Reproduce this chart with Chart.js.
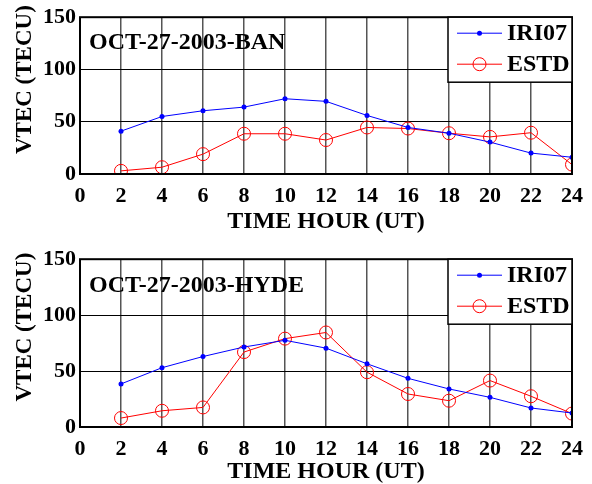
<!DOCTYPE html>
<html>
<head>
<meta charset="utf-8">
<script src="https://cdn.jsdelivr.net/npm/chart.js@4.4.0/dist/chart.umd.min.js"></script>
<style>
  body { margin: 0; background: #fff; }
  .panneau { position: absolute; left: 0; width: 592px; height: 242px; }
</style>
</head>
<body>
<div class="panneau" style="top:0"><canvas id="graphique-ban"></canvas></div>
<div class="panneau" style="top:242px"><canvas id="graphique-hyde"></canvas></div>
<script>
// Heures (UT) des mesures
const heures = [2, 4, 6, 8, 10, 12, 14, 16, 18, 20, 22, 24];

// Station BAN
const iriBan = [41, 55, 60.5, 64, 72, 69.5, 56, 44.5, 39, 30.5, 20, 16];
const estdBan = [3, 6.5, 19, 38.5, 38.5, 32.5, 44.5, 43.5, 39, 35.5, 39.5, 9];

// Station HYDE
const iriHyde = [38.5, 53, 63, 71.5, 77.5, 70.5, 56.5, 43.5, 34, 26.5, 17, 12.5];
const estdHyde = [8, 14.5, 17.5, 67, 79, 84.5, 49, 29.5, 23.5, 41.5, 27.5, 12];

// Graduations
const graduationsX = [0, 2, 4, 6, 8, 10, 12, 14, 16, 18, 20, 22, 24];
const graduationsY = [0, 50, 100, 150];

const POLICE = '"Liberation Serif", "Times New Roman", serif';

// Cadre, étiquette de station, titre vertical et légende encadrée (style MATLAB)
const decor = {
  id: 'decor',
  afterDraw(chart, args, opts) {
    const { ctx, chartArea: a } = chart;
    ctx.save();

    ctx.strokeStyle = '#000';
    ctx.lineWidth = 2;
    ctx.strokeRect(a.left, a.top, a.right - a.left, a.bottom - a.top);

    ctx.fillStyle = '#000';
    ctx.font = 'bold 24px ' + POLICE;
    ctx.textAlign = 'left';
    ctx.textBaseline = 'alphabetic';
    ctx.fillText(opts.station, a.left + 9, a.top + opts.decalStation);

    // titre de l'axe Y
    ctx.save();
    ctx.translate(25, (a.top + a.bottom) / 2 - 16);
    ctx.rotate(-Math.PI / 2);
    ctx.textAlign = 'center';
    ctx.textBaseline = 'middle';
    ctx.font = 'bold 23px ' + POLICE;
    ctx.fillText('VTEC (TECU)', 0, 0);
    ctx.restore();

    // légende
    const gauche = a.right - 124;
    const haut = a.top;
    ctx.fillStyle = '#fff';
    ctx.fillRect(gauche, haut, 124, 65);
    ctx.lineWidth = 1.5;
    ctx.strokeStyle = '#000';
    ctx.strokeRect(gauche, haut, 124, 65);

    chart.data.datasets.forEach((ds, i) => {
      const y = haut + 16 + i * 31;
      ctx.strokeStyle = ds.borderColor;
      ctx.lineWidth = 1;
      ctx.beginPath();
      ctx.moveTo(gauche + 9, y);
      ctx.lineTo(gauche + 54, y);
      ctx.stroke();
      ctx.beginPath();
      ctx.arc(gauche + 31.5, y, ds.pointRadius, 0, Math.PI * 2);
      if (ds.pointBackgroundColor !== 'transparent') {
        ctx.fillStyle = ds.pointBackgroundColor;
        ctx.fill();
      } else {
        ctx.stroke();
      }
      ctx.fillStyle = '#000';
      ctx.font = 'bold 24px ' + POLICE;
      ctx.textAlign = 'left';
      ctx.textBaseline = 'middle';
      ctx.fillText(ds.label, gauche + 59, y + 1);
    });

    ctx.restore();
  }
};

function points(valeurs) {
  return heures.map((h, i) => ({ x: h, y: valeurs[i] }));
}

function dessinerGraphique(idCanvas, station, iri, estd, hautAxeX, padTitreX, hautPlot, decalStation) {
  new Chart(document.getElementById(idCanvas), {
    type: 'line',
    data: {
      datasets: [
        {
          label: 'IRI07',
          data: points(iri),
          borderColor: '#0000ff',
          borderWidth: 1,
          pointRadius: 2.5,
          pointBackgroundColor: '#0000ff',
          pointBorderColor: '#0000ff',
          pointBorderWidth: 0
        },
        {
          label: 'ESTD',
          data: points(estd),
          borderColor: '#ff0000',
          borderWidth: 1,
          pointRadius: 6.5,
          pointBackgroundColor: 'transparent',
          pointBorderColor: '#ff0000',
          pointBorderWidth: 1
        }
      ]
    },
    options: {
      responsive: true,
      maintainAspectRatio: false,
      animation: false,
      layout: { padding: { top: hautPlot, right: 19, left: 0, bottom: 0 } },
      plugins: {
        legend: { display: false },
        tooltip: { enabled: false },
        decor: { station: station, decalStation: decalStation }
      },
      scales: {
        x: {
          type: 'linear',
          min: 0,
          max: 24,
          afterBuildTicks: s => { s.ticks = graduationsX.map(v => ({ value: v })); },
          afterFit: s => { s.height = hautAxeX; },
          grid: { color: '#555', lineWidth: 1.5, drawTicks: false },
          border: { display: false },
          ticks: {
            color: '#000',
            padding: 9,
            maxRotation: 0,
            font: { family: POLICE, size: 22, weight: 'bold' }
          },
          title: {
            display: true,
            text: 'TIME HOUR (UT)',
            color: '#000',
            padding: { top: 0, bottom: padTitreX },
            font: { family: POLICE, size: 24, weight: 'bold' }
          }
        },
        y: {
          min: 0,
          max: 150,
          afterBuildTicks: s => { s.ticks = graduationsY.map(v => ({ value: v })); },
          afterFit: s => { s.width = 80; },
          grid: { color: '#000', lineWidth: 1, drawTicks: false },
          border: { display: false },
          ticks: {
            color: '#000',
            padding: 4,
            font: { family: POLICE, size: 22, weight: 'bold' }
          }
        }
      }
    },
    plugins: [decor]
  });
}

dessinerGraphique('graphique-ban', 'OCT-27-2003-BAN', iriBan, estdBan, 68, 6, 16, 32);
dessinerGraphique('graphique-hyde', 'OCT-27-2003-HYDE', iriHyde, estdHyde, 57, -2, 15, 33);
</script>
</body>
</html>
